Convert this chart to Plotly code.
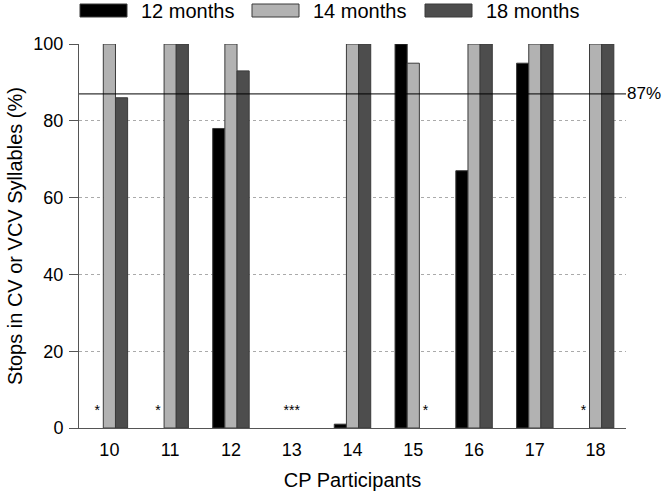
import plotly.graph_objects as go

participants = [10, 11, 12, 13, 14, 15, 16, 17, 18]
series_names = ["12 months", "14 months", "18 months"]
m12 = [None, None, 78, None, 1, 100, 67, 95, None]
m14 = [100, 100, 100, None, 100, 95, 100, 100, 100]
m18 = [86, 100, 93, None, 100, None, 100, 100, 100]
colors = ["#000000", "#b2b2b2", "#4d4d4d"]
threshold = 87
star_y = 4.2
y_ticks = [0, 20, 40, 60, 80, 100]

fig = go.Figure()
all_series = [m12, m14, m18]
for name, vals, col in zip(series_names, all_series, colors):
    fig.add_trace(go.Bar(
        x=participants, y=vals, name=name,
        marker=dict(color=col, line=dict(color="#3a3a3a", width=1)),
        showlegend=False,
    ))

# asterisks for missing data, placed at the empty bar slot
bar_w = (1 - 0.4) / 3
offsets = [-bar_w, 0, bar_w]
sx, st = [], []
for i, p in enumerate(participants):
    missing = [k for k in range(3) if all_series[k][i] is None]
    if len(missing) == 3:
        sx.append(p); st.append("***")
    else:
        for k in missing:
            sx.append(p + offsets[k]); st.append("*")
fig.add_trace(go.Scatter(
    x=sx, y=[star_y] * len(sx), mode="text", text=st,
    textfont=dict(size=14, color="#000"), showlegend=False, hoverinfo="skip",
))

fig.add_shape(type="line", xref="paper", yref="y", x0=0, x1=1, y0=threshold, y1=threshold,
              line=dict(color="#000", width=1))
fig.add_annotation(xref="paper", yref="y", x=1.0, y=threshold, text=f"{threshold}%",
                   showarrow=False, xanchor="left", yanchor="middle", xshift=-1,
                   font=dict(size=17, color="#000"))

# custom legend
leg_x = [80, 252, 425]
for name, col, lx in zip(series_names, colors, leg_x):
    fig.add_shape(type="rect", xref="paper", yref="paper",
                  x0=(lx - 79) / 547, x1=(lx + 47 - 79) / 547,
                  y0=(428 - 17) / 384, y1=(428 - 4) / 384,
                  line=dict(color="#3a3a3a", width=1), fillcolor=col)
    fig.add_annotation(xref="paper", yref="paper", x=(lx + 59 - 79) / 547, y=(428 - 10.5) / 384,
                       text=name, showarrow=False, xanchor="left", yanchor="middle",
                       font=dict(size=20, color="#000"))

fig.update_layout(
    width=664, height=495,
    margin=dict(l=79, r=38, t=44, b=67),
    plot_bgcolor="white", paper_bgcolor="white",
    barmode="group", bargap=0.4, bargroupgap=0,
    font=dict(family="Liberation Sans, Arial, sans-serif", size=18, color="#000"),
    xaxis=dict(range=[9.5, 18.5], tickvals=participants, ticks="outside", ticklen=5,
               tickcolor="rgba(0,0,0,0)", showgrid=False, automargin=False,
               showline=True, linecolor="#555", linewidth=1, zeroline=False,
               title=dict(text="CP Participants", standoff=14, font=dict(size=20)),
               tickfont=dict(size=18)),
    yaxis=dict(range=[0, 100], tickvals=y_ticks, ticks="outside", ticklen=9, tickcolor="#555",
               showline=True, linecolor="#555", linewidth=1, zeroline=False, automargin=False,
               showgrid=True, gridcolor="#aaa", griddash="dot", gridwidth=1,
               ticklabelstandoff=2,
               title=dict(text="Stops in CV or VCV Syllables (%)", standoff=5, font=dict(size=20)),
               tickfont=dict(size=18)),
)

fig.write_html("out.html", config={"displayModeBar": False},
               post_script="document.body.style.margin='0';document.body.style.overflow='hidden';")
